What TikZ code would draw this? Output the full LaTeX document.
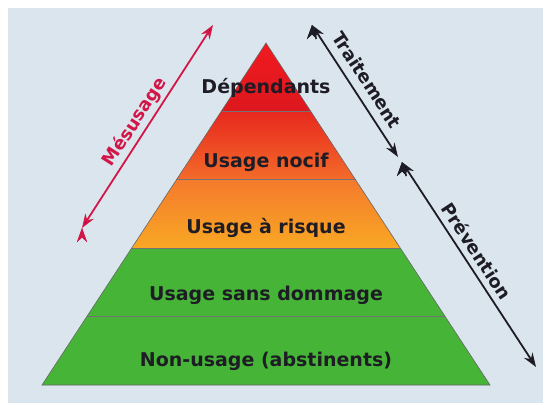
\documentclass[tikz,border=0pt]{standalone}
\usepackage{fontspec}
\setmainfont{DejaVu Sans}
\usetikzlibrary{arrows.meta,calc}

\definecolor{bgblue}{RGB}{219,229,237}
\definecolor{mesred}{RGB}{210,22,72}
\definecolor{inkdark}{RGB}{30,28,36}
\definecolor{depred}{RGB}{240,26,32}
\definecolor{nocifred}{RGB}{232,40,30}
\definecolor{nociforange}{RGB}{243,108,42}
\definecolor{risqueorange}{RGB}{244,122,44}
\definecolor{risqueyellow}{RGB}{249,168,36}
\definecolor{grassgreen}{RGB}{70,181,55}

\begin{document}
\begin{tikzpicture}[x=1pt,y=-1pt]
  
  \tikzset{level text/.style={font=\bfseries\fontsize{19}{22}\selectfont,
  		text=inkdark, inner sep=0pt}, }
  \tikzset{side text/.style={font=\bfseries\fontsize{18}{21}\selectfont,
  		inner sep=0pt}, }
  \tikzset{linea/.style={{Stealth[length=14pt,width=10pt]}-{Stealth[length=14pt,width=10pt]},
  		line width=1.8pt}, }
  \tikzset{divider/.style={draw=black!55, line width=0.7pt}, }
\fill[white] (0,0) rectangle (546,407);
\fill[bgblue] (8,8) rectangle (543,403);
%% pyramid corners
\coordinate (apex) at (266,43);
\coordinate (bl) at (42,385);
\coordinate (br) at (490,385);
\foreach \i/\t in {1/0.2,2/0.4,3/0.6,4/0.8}{
  \coordinate (l\i) at ($(apex)!\t!(bl)$);
  \coordinate (r\i) at ($(apex)!\t!(br)$);
}
\shade[top color=depred, bottom color=depred!92!black] (apex) -- (l1) -- (r1) -- cycle;
\shade[top color=nocifred, bottom color=nociforange] (l1) -- (l2) -- (r2) -- (r1) -- cycle;
\shade[top color=risqueorange, bottom color=risqueyellow] (l2) -- (l3) -- (r3) -- (r2) -- cycle;
\fill[grassgreen] (l3) -- (bl) -- (br) -- (r3) -- cycle;
\foreach \i in {1,2,3,4}
  \path[divider] (l\i) -- (r\i);
\draw[black!60, line width=0.6pt] (apex) -- (bl) -- (br) -- cycle;
%% level labels
\node[level text] (dep) at (266,88) {Dépendants};
\node[level text] (nocif) at (266,162) {Usage nocif};
\node[level text] (risque) at (266,228) {Usage à risque};
\node[level text] (sansdom) at (266,295) {Usage sans dommage};
\node[level text] (nonusage) at (266,361) {Non-usage (abstinents)};
%% side arrows
\coordinate (mestop) at (213,25);
\coordinate (mesbot) at (82,228);
\coordinate (trttop) at (312,25);
\coordinate (trtbot) at (398,157);
\coordinate (prvtop) at (402,162);
\coordinate (prvbot) at (536,367);
\path[linea, draw=mesred] (mesbot) edge (mestop);
\path[linea, draw=inkdark] (trttop) edge (trtbot);
\path[linea, draw=inkdark] (prvtop) edge (prvbot);
\node[side text, text=mesred, rotate=57.2] (mes) at (135,122) {Mésusage};
\node[side text, text=inkdark, rotate=-56.8] (trt) at (367,80) {Traitement};
\node[side text, text=inkdark, rotate=-56.8] (prv) at (477,251) {Prévention};
%%  
\end{tikzpicture}
\end{document}
